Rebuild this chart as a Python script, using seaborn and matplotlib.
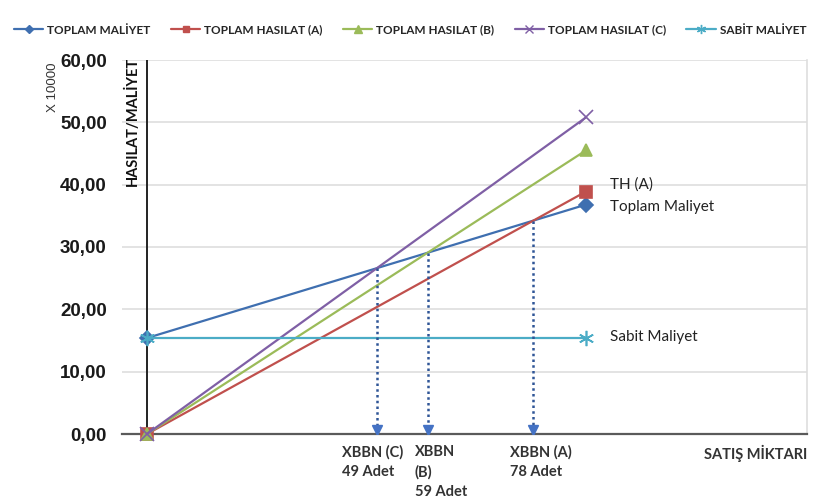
import numpy as np
import pandas as pd
import seaborn as sns
import matplotlib.pyplot as plt
from matplotlib.ticker import FuncFormatter

# data (values x 10000)
quantity = [0, 90]
toplam_maliyet = [15.4, 36.8]
toplam_hasilat_a = [0.0, 38.9]
toplam_hasilat_b = [0.0, 45.5]
toplam_hasilat_c = [0.0, 50.8]
sabit_maliyet = [15.4, 15.4]

series_names = ['TOPLAM MALİYET', 'TOPLAM HASILAT (A)', 'TOPLAM HASILAT (B)',
                'TOPLAM HASILAT (C)', 'SABİT MALİYET']
series_values = [toplam_maliyet, toplam_hasilat_a, toplam_hasilat_b,
                 toplam_hasilat_c, sabit_maliyet]
colors = ['#3F6FB0', '#C0504D', '#9BBB59', '#7F5FA5', '#4BACC6']
markers = ['D', 's', '^', 'x', (6, 2, 0)]
marker_sizes = [7, 8, 9, 10, 11]

y_ticks = [0, 10, 20, 30, 40, 50, 60]
bbn_labels = ['XBBN (C)\n49 Adet', 'XBBN\n(B)\n59 Adet', 'XBBN (A)\n78 Adet']
bbn_series = ['TOPLAM HASILAT (C)', 'TOPLAM HASILAT (B)', 'TOPLAM HASILAT (A)']
bbn_text_shift = [-35, -13, -23]  # px, text left edge relative to arrow

df = pd.DataFrame({
    'Miktar': quantity * len(series_names),
    'Deger': np.concatenate(series_values),
    'Seri': np.repeat(series_names, len(quantity)),
})

sns.set_style('white')
plt.rcParams['font.family'] = ['Liberation Sans', 'DejaVu Sans']
calibri_like = ['Lato', 'DejaVu Sans']

fig = plt.figure(figsize=(8.15, 4.98), dpi=100)
ax = fig.add_axes([122 / 815, 1 - 434 / 498, (807 - 122) / 815, (434 - 60) / 498])

# one call per series (filled and line-art markers can't be mixed in one call)
for name, c, m, ms in zip(series_names, colors, markers, marker_sizes):
    sns.lineplot(data=df[df.Seri == name], x='Miktar', y='Deger',
                 color=c, marker=m, markersize=ms, markeredgecolor=c,
                 markeredgewidth=1.2, linewidth=1.6, ax=ax, legend=False,
                 clip_on=False, zorder=3)

px_per_unit = (586 - 147) / (quantity[1] - quantity[0])
ax.set_xlim(-25 / px_per_unit, (807 - 147) / px_per_unit)
ax.set_ylim(0, 60)
ax.set_yticks(y_ticks)
ax.yaxis.set_major_formatter(FuncFormatter(lambda v, p: f'{v:.2f}'.replace('.', ',')))
ax.set_xticks([])
ax.set_xlabel('')
ax.set_ylabel('')
ax.tick_params(axis='y', length=0, pad=11, labelsize=13.5, labelcolor='#1a1a1a')
for lbl in ax.get_yticklabels():
    lbl.set_fontweight('bold')
    lbl.set_family('Liberation Sans')

ax.grid(axis='y', color='#dedede', linewidth=1.2)
ax.set_axisbelow(True)
for side in ['top', 'left']:
    ax.spines[side].set_visible(False)
ax.spines['right'].set_color('#dedede')
ax.spines['right'].set_linewidth(1.2)
ax.spines['bottom'].set_color('#5a5a5a')
ax.spines['bottom'].set_linewidth(1.6)

# vertical axis line at zero
ax.axvline(0, color='#222222', linewidth=1.4, zorder=1)

# break-even arrows from intersection with total cost line
lookup = dict(zip(series_names, series_values))
tm = lookup['TOPLAM MALİYET']
tm_slope = (tm[1] - tm[0]) / (quantity[1] - quantity[0])
for name, label, shift in zip(bbn_series, bbn_labels, bbn_text_shift):
    th = lookup[name]
    th_slope = (th[1] - th[0]) / (quantity[1] - quantity[0])
    xi = (tm[0] - th[0]) / (th_slope - tm_slope)
    yi = tm[0] + tm_slope * xi
    ax.plot([xi, xi], [yi, 1.0], linestyle=(0, (1, 1.3)), color='#2F5597',
            linewidth=1.8, zorder=4)
    ax.plot([xi], [0.7], marker='v', markersize=7, color='#4472C4',
            linestyle='none', zorder=4)
    ax.annotate(label, xy=(xi, 0), xycoords=('data', 'axes fraction'),
                xytext=(shift * 0.72, -8), textcoords='offset points',
                ha='left', va='top', fontsize=10.5, family=calibri_like,
                fontweight='bold', color='#333333', linespacing=1.5)

ax.annotate('SATIŞ MİKTARI', xy=(1, 0), xycoords='axes fraction',
            xytext=(-74, -8), textcoords='offset points', ha='left', va='top',
            fontsize=10.5, family=calibri_like, fontweight='bold',
            color='#333333', annotation_clip=False)

# labels at line ends
end_x = quantity[-1]
ax.annotate('TH (A)', xy=(end_x, toplam_hasilat_a[-1]), xytext=(17, 5),
            textcoords='offset points', va='center', fontsize=11,
            family=calibri_like, color='#222222')
ax.annotate('Toplam Maliyet', xy=(end_x, toplam_maliyet[-1]), xytext=(17, -1.5),
            textcoords='offset points', va='center', fontsize=11,
            family=calibri_like, color='#222222')
ax.annotate('Sabit Maliyet', xy=(end_x, sabit_maliyet[-1]), xytext=(17, 1),
            textcoords='offset points', va='center', fontsize=11,
            family=calibri_like, color='#222222')

# axis titles
fig.text(132 / 815, 1 - 121 / 498, 'HASILAT/MALİYET', rotation=90, ha='center',
         va='center', fontsize=10.5, fontweight='bold', color='#111111',
         family=calibri_like)
fig.text(53 / 815, 1 - 87 / 498, 'X 10000', rotation=90, ha='center', va='center',
         fontsize=9.5, color='#333333')

# legend across the top
handles = [plt.Line2D([], [], color=c, marker=m, markersize=ms * 0.6,
                      markeredgecolor=c, linewidth=1.6)
           for c, m, ms in zip(colors, markers, marker_sizes)]
fig.legend(handles, series_names, loc='center', bbox_to_anchor=(0.503, 1 - 30 / 498),
           ncol=5, frameon=False, handlelength=2.5, handletextpad=0.3,
           columnspacing=1.75, prop={'family': calibri_like,
                                     'weight': 'bold', 'size': 8.5})

fig.savefig('out.png', dpi=100)
